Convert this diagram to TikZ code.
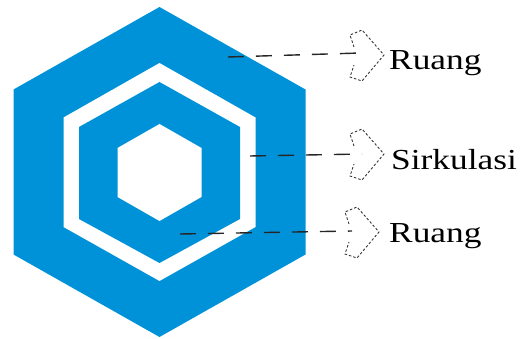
\documentclass[tikz,border=0pt]{standalone}
\usepackage{fontspec}
\newfontfamily\lbl[FakeStretch=1.22]{Liberation Serif}
\definecolor{blu}{RGB}{0,146,216}
\begin{document}
\begin{tikzpicture}[x=1pt,y=-1pt,
  leader/.style={draw=black!85,line width=1.4pt,dash pattern=on 16pt off 12pt},
  hollowarrow/.style={draw=black!80,line width=0.9pt,dash pattern=on 2.5pt off 2pt},
  lab/.style={inner sep=0pt,anchor=base west,font=\lbl\fontsize{29}{32}\selectfont}]
\useasboundingbox (0,0) rectangle (520,339);
% hexagons
\fill[blu] (159.5,7) -- (305.5,89.5) -- (305.5,254.5) -- (159.5,337) -- (13.5,254.5) -- (13.5,89.5) -- cycle;
\fill[white] (159.5,63) -- (255.5,117.5) -- (255.5,227) -- (159.5,281) -- (63.5,227) -- (63.5,117.5) -- cycle;
\fill[blu] (159.5,82) -- (240,127) -- (240,219) -- (159.5,263) -- (79,219) -- (79,127) -- cycle;
\fill[white] (159.5,124) -- (201.5,148) -- (201.5,197) -- (159.5,221) -- (117.5,197) -- (117.5,148) -- cycle;
% labels
\node[lab] (r1) at (389,70) {Ruang};
\node[lab] (s1) at (391,170) {Sirkulasi};
\node[lab] (r2) at (389,243) {Ruang};
% leader start / end points
\coordinate (a1) at (228,57);
\coordinate (b1) at (360,53);
\coordinate (a2) at (250,156);
\coordinate (b2) at (362,154);
\coordinate (a3) at (180,234);
\coordinate (b3) at (352,231);
\draw[leader] (a1) -- (b1);
\draw[leader] (a2) -- (b2);
\draw[leader] (a3) -- (b3);
% hollow dashed arrows
\foreach \t in {(384,55),(384,154),(379,232)}{
  \draw[hollowarrow,shift={\t}] (-30,-8) -- (-34,-20) -- (-22,-25) -- (0,0) -- (-22,26) -- (-34,22) -- (-30,10);
}
\end{tikzpicture}
\end{document}
